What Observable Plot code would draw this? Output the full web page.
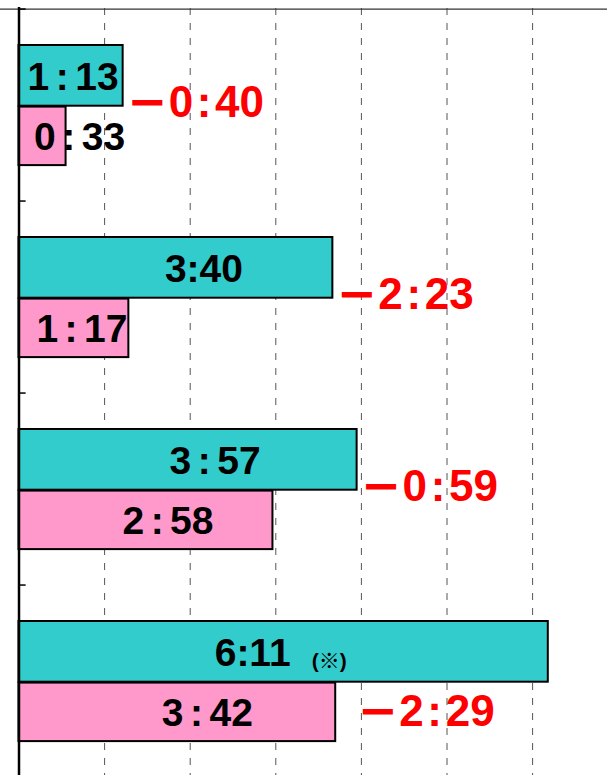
<!DOCTYPE html>
<html><head><meta charset="utf-8">
<script src="https://cdn.jsdelivr.net/npm/d3@7"></script>
<script src="https://cdn.jsdelivr.net/npm/@observablehq/plot@0.6"></script>
<style>
html,body{margin:0;padding:0;background:#fff}
#chart svg{display:block}
</style></head><body><div id="chart"></div>
<script>
// ---- data (minutes) ----
const groups = ["1", "2", "3", "4"];
const tealMinutes = [73, 220, 237, 371];   // 1:13, 3:40, 3:57, 6:11
const pinkMinutes = [33, 77, 178, 222];    // 0:33, 1:17, 2:58, 3:42
const tealLabels = ["1\u2006:\u200613", "3:40", "3\u2006:\u200657", "6:11"];
const pinkLabels = ["0\u2006:\u200633", "1\u2006:\u200617", "2\u2006:\u200658", "3\u2006:\u200642"];
const diffLabels = ["\u22120\u200A:\u200A40", "\u22122\u200A:\u200A23", "\u22120\u200A:\u200A59", "\u22122\u200A:\u200A29"];
const noteLabel = "(\u203B)";
const noteGroup = "4";
const gridTicks = [60, 120, 180, 240, 300, 360];

// ---- layout / style ----
const W = 607, H = 775;
const xDomain = [0, 412.5], xRange = [18.5, W];
const yRange = [7.7, 779.3];
const bw = (yRange[1] - yRange[0]) / groups.length;
const TEAL = "#33CCCC", PINK = "#FF99CC", RED = "#FF0000";
const FONT = "'Liberation Sans', Arial, 'Noto Sans CJK JP', sans-serif";
const SIGNFONT = "'DejaVu Sans', sans-serif";
const tealNudge = [2, 28, 27, -31];
const pinkNudge = [37, 8, 22, 30];

const teal = groups.map((g, i) => ({group: g, value: tealMinutes[i], label: tealLabels[i]}));
const pink = groups.map((g, i) => ({group: g, value: pinkMinutes[i], label: pinkLabels[i]}));

// place the difference label beside the teal bar if it fits, otherwise beside the pink bar
const xs = d3.scaleLinear(xDomain, xRange);
const ctx = document.createElement("canvas").getContext("2d");
ctx.font = `bold 44px ${FONT}`;
const diffs = groups.map((g, i) => {
  const w = ctx.measureText(diffLabels[i]).width + 10;
  const fits = xs(tealMinutes[i]) + 10 + w <= W;
  return {group: g, value: fits ? tealMinutes[i] : pinkMinutes[i], label: diffLabels[i], row: fits ? "mid" : "pink"};
});

const marks = [
  Plot.ruleX(gridTicks, {stroke: "#555", strokeWidth: 1, strokeDasharray: "7,8", insetTop: 8}),
  Plot.ruleY([groups[0]], {y: d => d, dy: -bw / 2, stroke: "#333", strokeWidth: 1.3}),
  Plot.barX(teal, {y: "group", x: "value", fill: TEAL, stroke: "#000", strokeWidth: 2, insetTop: 36, insetBottom: bw - 97.6}),
  Plot.barX(pink, {y: "group", x: "value", fill: PINK, stroke: "#000", strokeWidth: 2, insetTop: 97.6, insetBottom: bw - 157}),
  Plot.ruleX([0], {stroke: "#000", strokeWidth: 2.5, insetTop: 7}),
  Plot.ruleY(groups, {y: d => d, x1: 0, x2: 5, dy: -bw / 2, stroke: "#000", strokeWidth: 1.5})
];
teal.forEach((d, i) => marks.push(
  Plot.text([d], {y: "group", x: v => v.value / 2, text: "label", dx: tealNudge[i], dy: -28,
    fontSize: 39, fontWeight: "bold", fontFamily: FONT, fill: "#000"})
));
pink.forEach((d, i) => marks.push(
  Plot.text([d], {y: "group", x: v => v.value / 2, text: "label", dx: pinkNudge[i], dy: 32,
    fontSize: 39, fontWeight: "bold", fontFamily: FONT, fill: "#000"})
));
// note beside the 6:11 label
const noteDatum = teal.find(d => d.group === noteGroup);
marks.push(Plot.text([noteDatum], {y: "group", x: v => v.value / 2, text: () => noteLabel, dx: 28, dy: -20,
  textAnchor: "start", fontSize: 21, fontWeight: "bold", fontFamily: FONT, fill: "#000"}));

// difference labels: sign and magnitude
const rows = [{row: "mid", shift: 0, dy: -3}, {row: "pink", shift: 18, dy: 30}];
for (const r of rows) {
  const data = diffs.filter(d => d.row === r.row);
  marks.push(Plot.text(data, {y: "group", x: "value", text: d => d.label.slice(0, 1), dx: 4 + r.shift, dy: r.dy,
    textAnchor: "start", fontSize: 48, fontWeight: "bold", fontFamily: SIGNFONT, fill: RED}));
  marks.push(Plot.text(data, {y: "group", x: "value", text: d => d.label.slice(1), dx: 45.5 + r.shift, dy: r.dy,
    textAnchor: "start", fontSize: 44, fontWeight: "bold", fontFamily: FONT, fill: RED}));
}

const chart = Plot.plot({
  width: W, height: H,
  margin: 0,
  x: {domain: xDomain, range: xRange, axis: null},
  y: {type: "band", domain: groups, range: yRange, padding: 0, axis: null},
  style: {background: "#fff", overflow: "hidden"},
  marks
});
document.getElementById("chart").appendChild(chart);
</script>
</body></html>
